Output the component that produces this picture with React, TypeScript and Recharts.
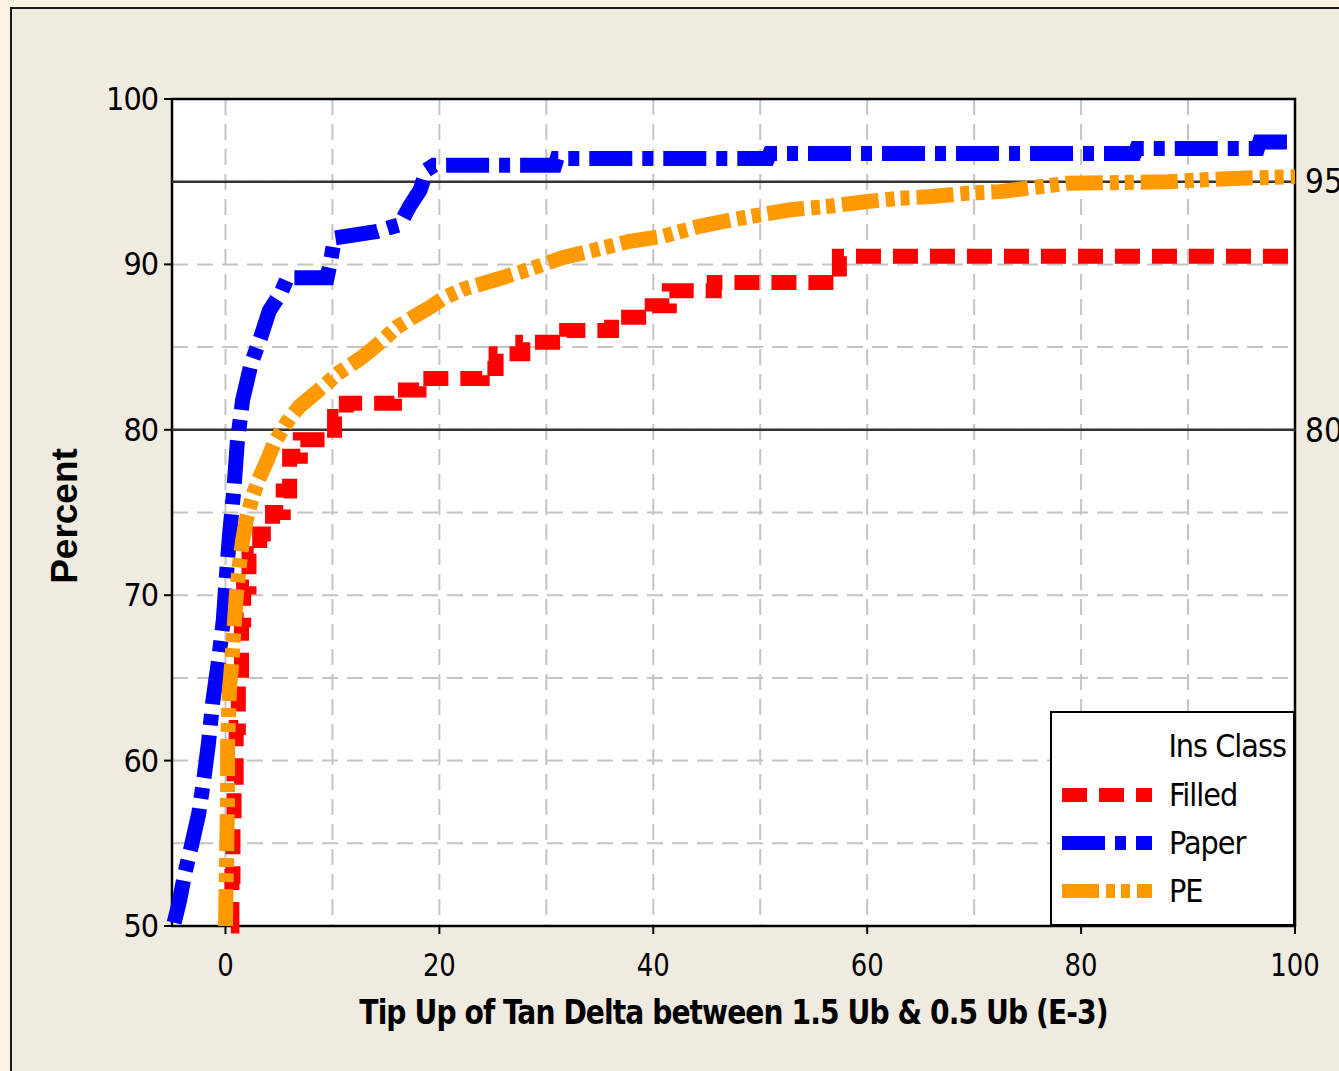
import React from "react";
import {
  ComposedChart,
  Line,
  XAxis,
  YAxis,
  CartesianGrid,
  ReferenceLine,
  ReferenceArea,
} from "recharts";

const FILLED: [number, number][] = [
  [0.5, 50], [0.6, 53], [0.7, 56], [0.8, 59], [1.0, 62], [1.2, 65],
  [1.5, 68.5], [1.7, 70.5], [2.2, 72.5], [3.2, 73.7], [4.4, 75], [5.4, 76.3],
  [6.0, 78.4], [7.0, 79.4], [10.2, 80.8], [11.3, 81.6], [15.8, 82.4],
  [18.1, 83.1], [24.0, 83.7], [25.3, 84.6], [27.8, 85.3], [31.9, 86.0],
  [36.1, 86.8], [39.9, 87.5], [41.5, 88.4], [45.7, 88.9], [57.4, 90.5],
  [100, 90.5],
];

const PAPER: [number, number][] = [
  [-4.8, 50.2], [-4.3, 51.5], [-3.8, 53.2], [-3.2, 54.8], [-2.5, 56.8],
  [-2.0, 59.0], [-1.6, 61.0], [-1.2, 63.5], [-0.7, 65.8], [-0.2, 68.5],
  [0.1, 71.3], [0.4, 73.8], [0.8, 76.5], [1.1, 79.2], [1.6, 81.8],
  [2.4, 84.0], [3.3, 85.6], [4.1, 87.2], [5.2, 88.3], [5.8, 89.2],
  [9.5, 89.2], [9.8, 90.1], [10.2, 91.6], [14.2, 92.0], [15.2, 92.2],
  [16.3, 92.4], [17.2, 93.5], [18.2, 94.5], [18.8, 95.7], [19.5, 96.0],
  [30.8, 96.0], [31.0, 96.4], [50.7, 96.4], [50.9, 96.7], [85.0, 96.7],
  [85.2, 97.0], [96.5, 97.0], [96.7, 97.4], [100, 97.4],
];

const PE: [number, number][] = [
  [0.0, 50], [0.1, 54], [0.2, 58], [0.2, 61], [0.3, 63], [0.4, 64.5],
  [0.6, 66], [0.8, 68], [1.0, 69.9], [1.3, 71.8], [1.6, 73.3], [2.0, 74.7],
  [2.5, 75.9], [3.1, 77.0], [3.8, 78.0], [4.5, 79.1], [5.3, 80.0],
  [6.0, 80.7], [6.9, 81.4], [8.0, 82.0], [9.1, 82.6], [10.5, 83.4],
  [12.8, 84.4], [14.5, 85.3], [16.0, 86.2], [17.5, 86.8], [19.1, 87.4],
  [20.5, 88.0], [22.2, 88.5], [25.4, 89.1], [28.4, 89.7], [31.5, 90.4],
  [34.7, 90.9], [37.8, 91.4], [40.9, 91.7], [44.3, 92.3], [47.4, 92.7],
  [50.0, 93.0], [52.8, 93.3], [56.2, 93.5], [60.0, 93.8], [63.0, 94.0],
  [66.1, 94.1], [69.3, 94.3], [72.4, 94.4], [78.7, 94.9], [88.0, 95.0],
  [94.2, 95.2], [100, 95.3],
];

const X_GRID = [0, 10, 20, 30, 40, 50, 60, 70, 80, 90, 100];
const Y_GRID = [50, 55, 60, 65, 70, 75, 80, 85, 90, 95, 100];
const X_LABEL_STEP = 20;
const Y_LABEL_STEP = 10;
const REF_LINES = [95, 80];

const SERIES = [
  { name: "Filled", data: FILLED, color: "#FF0000", dash: "25 12", curve: "stepAfter" },
  { name: "Paper", data: PAPER, color: "#0000FF", dash: "43 10 11 10", curve: "linear" },
  { name: "PE", data: PE, color: "#FF9900", dash: "37 7 9 6 9 7", curve: "linear" },
];

const NARROW = "'Liberation Sans Narrow', 'DejaVu Sans Condensed', sans-serif";

const toPoints = (arr: [number, number][]) => arr.map(([x, y]) => ({ x, y }));

function XTick(props: any) {
  const { x, y, payload } = props;
  if (payload.value % X_LABEL_STEP !== 0) return <g />;
  return (
    <g>
      <line x1={x} x2={x} y1={y} y2={y + 8} stroke="#000" strokeWidth={2} />
      <text
        x={x}
        y={y + 50}
        textAnchor="middle"
        fill="#000"
        fontSize={32}
        fontFamily={NARROW}
        transform={`translate(${x} 0) scale(0.9 1) translate(${-x} 0)`}
      >
        {payload.value}
      </text>
    </g>
  );
}

function YTick(props: any) {
  const { x, y, payload } = props;
  if (payload.value % Y_LABEL_STEP !== 0) return <g />;
  return (
    <g>
      <line x1={x - 8} x2={x} y1={y} y2={y} stroke="#000" strokeWidth={2} />
      <text
        x={x - 14}
        y={y + 11}
        textAnchor="end"
        fill="#000"
        fontSize={32}
        fontFamily={NARROW}
        letterSpacing={-1}
      >
        {payload.value}
      </text>
    </g>
  );
}

export default function App() {
  return (
    <div
      style={{
        position: "absolute",
        left: 0,
        top: 0,
        width: 1339,
        height: 1071,
        overflow: "hidden",
        background: "#FCF2DF",
      }}
    >
      <div
        style={{
          position: "absolute",
          left: 10,
          top: 7,
          width: 1400,
          height: 1100,
          border: "2px solid #1a1a1a",
          background: "#EFEBE0",
        }}
      />
      <div style={{ position: "absolute", left: 0, top: 0 }}>
        <ComposedChart
          width={1339}
          height={1071}
          margin={{ top: 99, right: 44, bottom: 95, left: 102 }}
        >
          <CartesianGrid
            fill="#ffffff"
            stroke="#c4c4c4"
            strokeWidth={2}
            strokeDasharray="16 9"
          />
          <XAxis
            type="number"
            dataKey="x"
            domain={[-5, 100]}
            ticks={X_GRID}
            interval={0}
            height={50}
            axisLine={false}
            tickLine={false}
            tickSize={0}
            tickMargin={0}
            tick={<XTick />}
          />
          <YAxis
            type="number"
            domain={[50, 100]}
            ticks={Y_GRID}
            interval={0}
            width={70}
            axisLine={false}
            tickLine={false}
            tickSize={0}
            tickMargin={0}
            tick={<YTick />}
          />
          {REF_LINES.map((v) => (
            <ReferenceLine
              key={v}
              y={v}
              stroke="#333"
              strokeWidth={2.5}
              label={{
                value: String(v),
                position: "right",
                offset: 10,
                fill: "#000",
                fontSize: 33,
                fontFamily: NARROW,
              }}
            />
          ))}
          {SERIES.map((s) => (
            <Line
              key={s.name}
              data={toPoints(s.data)}
              dataKey="y"
              name={s.name}
              type={s.curve as any}
              stroke={s.color}
              strokeWidth={15}
              strokeDasharray={s.dash}
              strokeLinecap="butt"
              dot={false}
              activeDot={false}
              isAnimationActive={false}
            />
          ))}
          <ReferenceArea
            x1={-5}
            x2={100}
            y1={50}
            y2={100}
            fill="none"
            fillOpacity={0}
            stroke="#000"
            strokeWidth={2.5}
          />
        </ComposedChart>
      </div>

      <div
        style={{
          position: "absolute",
          left: 172,
          width: 1123,
          top: 992,
          textAlign: "center",
          fontFamily: NARROW,
          fontWeight: "bold",
          fontSize: 34,
          letterSpacing: -1,
          color: "#000",
          transform: "scaleX(0.92)",
          whiteSpace: "nowrap",
        }}
      >
        Tip Up of Tan Delta between 1.5 Ub &amp; 0.5 Ub (E-3)
      </div>
      <div
        style={{
          position: "absolute",
          left: 65,
          top: 516,
          transform: "translate(-50%, -50%) rotate(-90deg)",
          fontFamily: "'Liberation Sans', Arial, sans-serif",
          fontWeight: "bold",
          fontSize: 37,
          color: "#000",
          whiteSpace: "nowrap",
        }}
      >
        Percent
      </div>

      <div
        style={{
          position: "absolute",
          left: 1050,
          top: 711,
          width: 245,
          height: 215,
          boxSizing: "border-box",
          border: "2px solid #000",
          background: "#fff",
          fontFamily: NARROW,
          fontSize: 32,
          letterSpacing: -1,
          color: "#000",
        }}
      >
        <div
          style={{
            position: "absolute",
            right: 7,
            top: 15,
            lineHeight: "36px",
          }}
        >
          Ins Class
        </div>
        {SERIES.map((s, i) => (
          <div
            key={s.name}
            style={{
              position: "absolute",
              left: 9,
              top: 64 + i * 48,
              height: 36,
              display: "flex",
              alignItems: "center",
            }}
          >
            <svg width={92} height={20} style={{ marginRight: 16 }}>
              <line
                x1={1}
                x2={91}
                y1={10}
                y2={10}
                stroke={s.color}
                strokeWidth={14}
                strokeDasharray={s.dash}
              />
            </svg>
            <span style={{ lineHeight: "36px" }}>{s.name}</span>
          </div>
        ))}
      </div>
    </div>
  );
}
